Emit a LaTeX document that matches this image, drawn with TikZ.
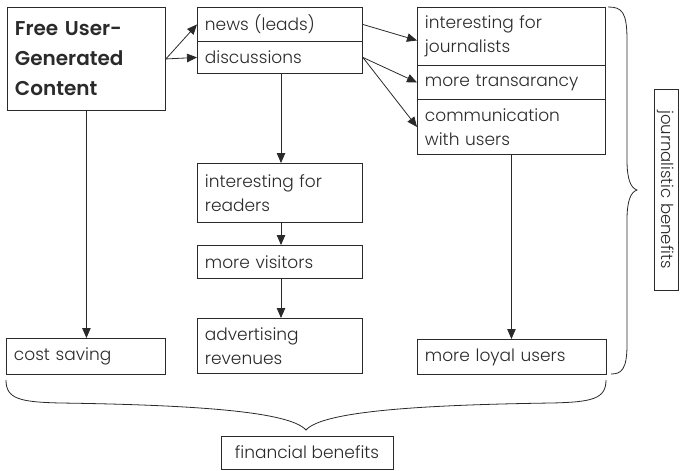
\documentclass[tikz,border=0pt]{standalone}
\usepackage{fontspec}
\IfFontExistsTF{Poppins Light}{\setmainfont{Poppins Light}[BoldFont=Poppins SemiBold]}{\setmainfont{Poppins}}
\usetikzlibrary{arrows.meta}
\definecolor{ink}{HTML}{2A2A2A}
\tikzset{
  bx/.style={draw=ink, line width=0.9pt, anchor=north west, inner xsep=7.5pt, inner ysep=0pt,
    align=left, text=ink, font=\fontsize{17}{24}\selectfont},
  arr/.style={draw=ink, line width=0.8pt, -{Triangle[length=10pt,width=8.5pt]}},
  brace/.style={draw=ink, line width=0.8pt},
}
\newcommand{\bxat}[6]{% name, x0, y0, x1, y1, text
  \node[bx, text width={#4-#2-15pt}, minimum height={#5-#3}] (#1) at (#2,#3) {#6};}
\begin{document}
\begin{tikzpicture}[x=1pt,y=-1pt]
\useasboundingbox (0,0) rectangle (681,471);
\node[bx, text width=143pt, minimum height=103pt, font=\bfseries\fontsize{20}{30}\selectfont] (A) at (7,7) {Free User-\\Generated\\Content};
\bxat{N}{197}{7}{362}{41}{news (leads)}
\bxat{D}{197}{41}{362}{73}{discussions}
\bxat{J}{417}{7}{605}{65}{interesting for\\journalists}
\bxat{T}{417}{65}{605}{99}{more transarancy}
\bxat{C}{417}{99}{605}{154}{communication\\with users}
\bxat{R}{197}{163}{362}{222}{interesting for\\readers}
\bxat{V}{197}{245}{362}{278}{more visitors}
\bxat{Ad}{197}{318}{362}{373}{advertising\\revenues}
\bxat{S}{6}{338}{165}{374}{cost saving}
\bxat{L}{417}{339}{606}{374}{more loyal users}
\node[draw=ink, line width=0.9pt, text=ink, font=\fontsize{17}{24}\selectfont, inner xsep=7pt, inner ysep=0pt,
  minimum width=172pt, minimum height=33pt] (F) at (307,452.5) {financial benefits};
\node[draw=ink, line width=0.9pt, text=ink, font=\fontsize{16.5}{24}\selectfont, inner xsep=4pt, inner ysep=0pt,
  rotate=-90, minimum width=201pt, minimum height=24pt] (JB) at (666,189.5) {journalistic benefits};
% connectors
\draw[arr] (A.east) -- (N.west);
\draw[arr] (A.east) -- (D.west);
\draw[arr] (N.east) -- ([yshift=-4pt]J.west);
\draw[arr] (D.east) -- (T.west);
\draw[arr] (D.east) -- (C.west);
\draw[arr] (D.south -| 281,0) -- (R.north -| 281,0);
\draw[arr] (R.south -| 281,0) -- (V.north -| 281,0);
\draw[arr] (V.south -| 281,0) -- (Ad.north -| 281,0);
\draw[arr] (A.south) -- (S.north -| A.south);
\draw[arr] (C.south) -- (L.north -| C.south);
% braces
\coordinate (rb1) at (608,7);
\coordinate (rbt) at (637,190);
\coordinate (rb2) at (611,374);
\draw[brace] (rb1) .. controls (622,7) and (627,12) .. (627,40) -- (627,160)
  .. controls (627,180) and (631,188) .. (rbt)
  .. controls (631,192) and (627,200) .. (627,220) -- (627,345)
  .. controls (627,370) and (621,374) .. (rb2);
\coordinate (bb1) at (6,380);
\coordinate (bbt) at (306,430);
\coordinate (bb2) at (606,380);
\draw[brace] (bb1) .. controls (6,399) and (20,402) .. (60,403)
  .. controls (200,405) and (290,412) .. (bbt)
  .. controls (322,412) and (412,405) .. (552,403)
  .. controls (592,402) and (606,399) .. (bb2);
\end{tikzpicture}
\end{document}
